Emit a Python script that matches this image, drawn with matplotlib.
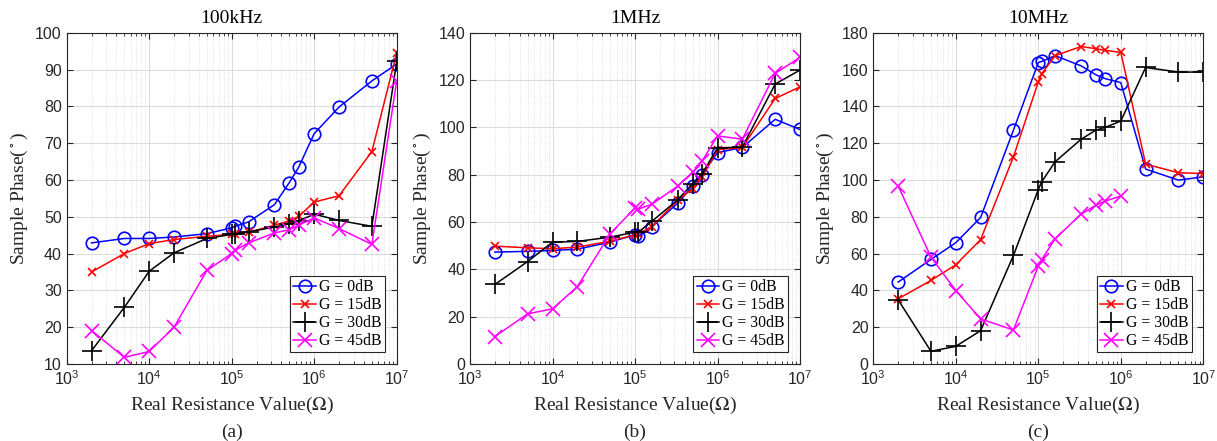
import matplotlib
matplotlib.use("Agg")
import matplotlib.pyplot as plt
import numpy as np
from matplotlib.ticker import LogLocator, NullFormatter, MultipleLocator

plt.rcParams['mathtext.fontset'] = 'stix'

resistance = [2e3, 5e3, 1e4, 2e4, 5e4, 1e5, 1.1e5, 1.6e5, 3.3e5, 5e5, 6.5e5, 1e6, 2e6, 5e6, 1e7]

titles = ['100kHz', '1MHz', '10MHz']
captions = ['(a)', '(b)', '(c)']
labels = ['G = 0dB', 'G = 15dB', 'G = 30dB', 'G = 45dB']

# 100kHz
g0_100k = [42.9, 44.1, 44.1, 44.5, 45.4, 47.0, 47.4, 48.6, 53.3, 59.3, 63.5, 72.6, 79.8, 86.9, 91.5]
g15_100k = [35.0, 40.0, 42.7, 43.8, 44.7, 45.2, 45.4, 45.8, 47.7, 48.9, 50.1, 54.0, 55.7, 67.7, 94.5]
g30_100k = [13.6, 25.4, 35.2, 40.2, 44.1, 45.2, 45.4, 45.9, 47.2, 48.1, 48.9, 50.7, 49.0, 47.4, 92.2]
g45_100k = [19.1, 11.8, 13.4, 20.0, 35.4, 40.0, 40.9, 42.9, 45.6, 46.5, 47.7, 49.7, 46.8, 42.5, 86.9]

# 1MHz
g0_1m = [47.3, 47.6, 48.0, 48.5, 51.5, 54.6, 53.9, 58.1, 68.0, 75.2, 80.0, 89.3, 91.5, 103.4, 99.1]
g15_1m = [49.8, 49.1, 48.7, 49.4, 51.9, 54.6, 55.0, 58.1, 69.2, 74.1, 79.0, 90.6, 91.5, 112.2, 117.1]
g30_1m = [33.6, 43.3, 51.5, 51.8, 53.6, 55.7, 55.7, 60.3, 69.4, 76.2, 80.4, 91.3, 91.7, 118.3, 124.2]
g45_1m = [11.6, 21.2, 23.3, 32.7, 55.0, 66.0, 65.5, 67.5, 75.2, 81.1, 85.7, 96.4, 95.0, 122.8, 129.6]

# 10MHz
g0_10m = [44.5, 56.8, 65.9, 79.6, 127.1, 163.8, 164.4, 167.5, 162.0, 157.1, 155.0, 152.9, 105.9, 99.9, 101.7]
g15_10m = [35.4, 45.4, 53.9, 67.6, 112.6, 153.3, 157.7, 167.5, 172.5, 171.3, 170.4, 169.3, 108.6, 103.9, 103.5]
g30_10m = [34.9, 6.9, 9.6, 18.1, 59.0, 94.8, 99.0, 109.9, 122.1, 127.1, 128.6, 132.0, 161.1, 158.6, 158.6]
g45_10m = [96.8, 58.1, 39.9, 24.5, 18.5, 53.2, 56.7, 68.1, 81.4, 86.3, 88.6, 91.2]

panels = [
    (g0_100k, g15_100k, g30_100k, g45_100k),
    (g0_1m, g15_1m, g30_1m, g45_1m),
    (g0_10m, g15_10m, g30_10m, g45_10m),
]
ylims = [(10, 100), (0, 140), (0, 180)]
ysteps = [10, 20, 20]

W, H = 1217, 441
fig = plt.figure(figsize=(W / 100, H / 100), dpi=100)

lefts = [66.7, 470, 873.3]
axw = 330
top, bottom = 32.7, 364

styles = [
    dict(color='#0000ff', marker='o', markersize=9, markerfacecolor='none', markeredgewidth=1.2),
    dict(color='#ff0000', marker='x', markersize=5.5, markeredgewidth=1.2),
    dict(color='#000000', marker='+', markersize=14, markeredgewidth=1.2),
    dict(color='#ff00ff', marker='x', markersize=10, markeredgewidth=1.2),
]

axcol = '#262626'
serif = ['Liberation Serif', 'DejaVu Serif']
sans = ['Liberation Sans', 'DejaVu Sans']
axh = bottom - top

for i, (series, ylim, ystep) in enumerate(zip(panels, ylims, ysteps)):
    ax = fig.add_axes([lefts[i] / W, (H - bottom) / H, axw / W, axh / H])
    for vals, st, lab in zip(series, styles, labels):
        ax.plot(resistance[:len(vals)], vals, linewidth=1.1, label=lab, **st)
    ax.set_xscale('log')
    ax.set_xlim(1e3, 1e7)
    ax.set_ylim(*ylim)
    ax.yaxis.set_major_locator(MultipleLocator(ystep))
    ax.xaxis.set_major_locator(LogLocator(base=10, numticks=10))
    ax.xaxis.set_minor_locator(LogLocator(base=10, subs=np.arange(2, 10), numticks=100))
    ax.xaxis.set_minor_formatter(NullFormatter())
    ax.grid(True, which='major', color='#dcdcdc', linewidth=0.8, linestyle='-')
    ax.grid(True, which='minor', axis='x', color='#d8d8d8', linewidth=0.6, linestyle=':')
    ax.set_axisbelow(True)
    ax.tick_params(which='both', direction='in', top=True, right=True, colors=axcol)
    ax.tick_params(which='major', length=4, labelsize=11.5)
    ax.tick_params(which='minor', length=2)
    for lbl in ax.get_xticklabels() + ax.get_yticklabels():
        lbl.set_fontfamily(sans)
    for s in ax.spines.values():
        s.set_color(axcol)
        s.set_linewidth(0.8)
    ax.set_title(titles[i], fontfamily=serif, fontsize=14, pad=7)
    ax.set_xlabel('Real Resistance Value($\\Omega$)', fontfamily=serif, fontsize=14, color=axcol, labelpad=5)
    ax.set_ylabel('Sample Phase($^\\circ$)', fontfamily=serif, fontsize=14, color=axcol, labelpad=4)
    ax.text(0.5, -(432 - bottom) / axh, captions[i], transform=ax.transAxes, ha='center', va='center',
            fontfamily=serif, fontsize=14, color=axcol)
    leg = ax.legend(loc='lower right', prop={'family': serif, 'size': 11.3}, frameon=True,
                    fancybox=False, edgecolor='#262626', framealpha=1, borderpad=0.2,
                    handlelength=1.45, handletextpad=0.2, labelspacing=0.12, borderaxespad=0.75)
    leg.get_frame().set_linewidth(0.8)

fig.savefig('out.png', dpi=100)
